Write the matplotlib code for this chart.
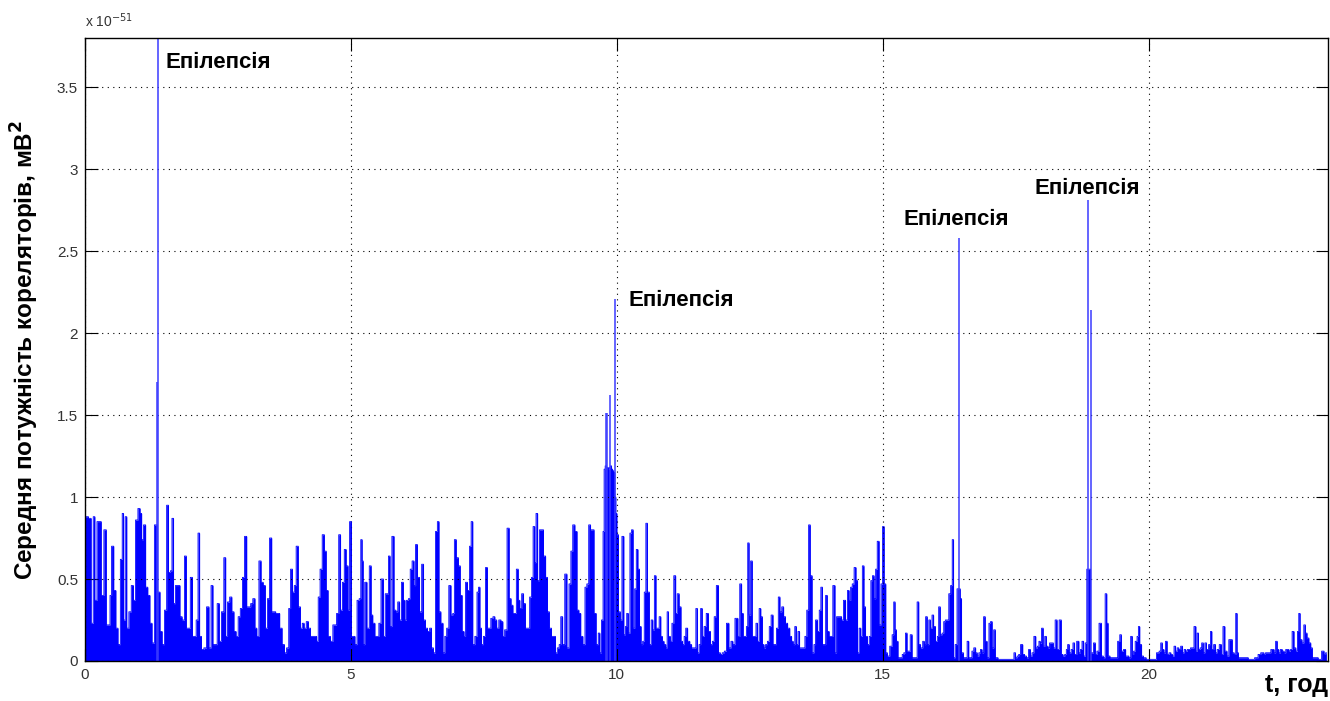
import numpy as np
import matplotlib
matplotlib.use("Agg")
import matplotlib.pyplot as plt

plt.rcParams['font.family'] = ['Liberation Sans', 'DejaVu Sans']

# mean correlator power, units of 1e-51 mV^2
t_hours = [
    0.00, 0.04, 0.09, 0.14, 0.17, 0.20, 0.25, 0.28, 0.33, 0.38, 0.42, 0.46, 0.48, 0.52, 0.56, 0.60,
    0.64, 0.69, 0.71, 0.74, 0.77, 0.80, 0.85, 0.89, 0.93, 0.97, 1.02, 1.05, 1.08, 1.12, 1.16, 1.20,
    1.24, 1.28, 1.33, 1.39, 1.43, 1.47, 1.52, 1.55, 1.59, 1.62, 1.65, 1.68, 1.72, 1.77, 1.80, 1.85,
    1.89, 1.92, 1.96, 2.00, 2.04, 2.07, 2.11, 2.14, 2.17, 2.21, 2.26, 2.31, 2.35, 2.39, 2.42, 2.46,
    2.51, 2.54, 2.59, 2.63, 2.66, 2.70, 2.74, 2.78, 2.82, 2.86, 2.90, 2.94, 2.98, 3.02, 3.06, 3.10,
    3.13, 3.18, 3.21, 3.25, 3.29, 3.33, 3.37, 3.41, 3.45, 3.49, 3.53, 3.57, 3.60, 3.64, 3.68, 3.73,
    3.77, 3.81, 3.85, 3.88, 3.92, 3.95, 3.99, 4.03, 4.07, 4.10, 4.14, 4.18, 4.22, 4.26, 4.30, 4.34,
    4.37, 4.40, 4.44, 4.48, 4.52, 4.55, 4.59, 4.64, 4.68, 4.71, 4.75, 4.79, 4.82, 4.86, 4.89, 4.93,
    4.96, 4.99, 5.03, 5.06, 5.09, 5.14, 5.17, 5.20, 5.22, 5.24, 5.28, 5.32, 5.37, 5.39, 5.43, 5.47,
    5.51, 5.54, 5.59, 5.63, 5.66, 5.69, 5.72, 5.75, 5.79, 5.83, 5.86, 5.90, 5.93, 5.97, 6.00, 6.03,
    6.06, 6.10, 6.13, 6.17, 6.20, 6.23, 6.27, 6.31, 6.35, 6.38, 6.42, 6.46, 6.50, 6.53, 6.57, 6.61,
    6.64, 6.67, 6.71, 6.75, 6.78, 6.82, 6.86, 6.90, 6.93, 6.96, 7.00, 7.04, 7.07, 7.11, 7.14, 7.17,
    7.21, 7.25, 7.27, 7.31, 7.35, 7.39, 7.41, 7.44, 7.47, 7.51, 7.55, 7.58, 7.61, 7.65, 7.69, 7.72,
    7.76, 7.80, 7.84, 7.87, 7.91, 7.96, 7.99, 8.03, 8.06, 8.09, 8.13, 8.16, 8.19, 8.23, 8.26, 8.30,
    8.34, 8.38, 8.41, 8.44, 8.47, 8.49, 8.53, 8.56, 8.60, 8.64, 8.68, 8.71, 8.75, 8.79, 8.83, 8.86,
    8.90, 8.93, 8.96, 9.00, 9.04, 9.08, 9.12, 9.15, 9.19, 9.23, 9.27, 9.30, 9.34, 9.38, 9.42, 9.45,
    9.49, 9.52, 9.55, 9.59, 9.63, 9.67, 9.69, 9.73, 9.75, 9.77, 9.79, 9.81, 9.83, 9.85, 9.87, 9.89,
    9.91, 9.93, 9.95, 9.97, 9.99, 10.01, 10.05, 10.08, 10.11, 10.15, 10.17, 10.20, 10.23, 10.26, 10.29, 10.32,
    10.35, 10.38, 10.41, 10.44, 10.47, 10.50, 10.53, 10.56, 10.59, 10.63, 10.66, 10.69, 10.72, 10.75, 10.78, 10.81,
    10.84, 10.87, 10.90, 10.94, 10.95, 10.99, 11.02, 11.05, 11.09, 11.12, 11.15, 11.19, 11.22, 11.25, 11.28, 11.31,
    11.35, 11.39, 11.42, 11.47, 11.50, 11.53, 11.56, 11.59, 11.62, 11.66, 11.70, 11.74, 11.78, 11.81, 11.85, 11.89,
    11.93, 11.96, 12.00, 12.04, 12.08, 12.13, 12.16, 12.20, 12.24, 12.26, 12.29, 12.33, 12.36, 12.39, 12.42, 12.45,
    12.47, 12.50, 12.53, 12.56, 12.60, 12.63, 12.66, 12.69, 12.72, 12.75, 12.78, 12.81, 12.85, 12.88, 12.92, 12.95,
    12.98, 13.02, 13.05, 13.08, 13.12, 13.15, 13.19, 13.23, 13.27, 13.30, 13.33, 13.36, 13.39, 13.42, 13.45, 13.49,
    13.52, 13.55, 13.59, 13.62, 13.65, 13.69, 13.72, 13.75, 13.79, 13.82, 13.85, 13.88, 13.91, 13.94, 13.97, 14.01,
    14.04, 14.08, 14.12, 14.14, 14.18, 14.21, 14.24, 14.28, 14.32, 14.35, 14.38, 14.41, 14.44, 14.48, 14.51, 14.54,
    14.57, 14.60, 14.63, 14.66, 14.69, 14.73, 14.76, 14.79, 14.82, 14.85, 14.88, 14.91, 14.95, 14.98, 15.01, 15.04,
    15.07, 15.10, 15.16, 15.19, 15.22, 15.24, 15.27, 15.30, 15.35, 15.38, 15.41, 15.44, 15.47, 15.50, 15.53, 15.57,
    15.60, 15.63, 15.66, 15.69, 15.73, 15.77, 15.79, 15.82, 15.85, 15.88, 15.91, 15.94, 15.97, 16.01, 16.04, 16.06,
    16.10, 16.13, 16.16, 16.19, 16.22, 16.26, 16.29, 16.32, 16.34, 16.38, 16.41, 16.44, 16.47, 16.49, 16.54, 16.57,
    16.60, 16.63, 16.66, 16.69, 16.73, 16.76, 16.79, 16.82, 16.85, 16.88, 16.91, 16.94, 16.98, 17.01, 17.04, 17.07,
    17.10, 17.13, 17.20, 17.26, 17.32, 17.38, 17.45, 17.48, 17.51, 17.54, 17.57, 17.61, 17.65, 17.68, 17.72, 17.76,
    17.79, 17.82, 17.86, 17.89, 17.92, 17.95, 17.97, 18.00, 18.03, 18.06, 18.09, 18.12, 18.15, 18.19, 18.22, 18.26,
    18.29, 18.34, 18.37, 18.40, 18.44, 18.46, 18.49, 18.52, 18.56, 18.59, 18.62, 18.67, 18.70, 18.73, 18.76, 18.79,
    18.82, 18.85, 18.87, 18.94, 18.98, 19.01, 19.04, 19.09, 19.13, 19.16, 19.20, 19.22, 19.25, 19.29, 19.33, 19.39,
    19.44, 19.47, 19.50, 19.55, 19.58, 19.61, 19.64, 19.68, 19.70, 19.73, 19.76, 19.80, 19.81, 19.85, 19.88, 19.92,
    19.98, 20.05, 20.11, 20.18, 20.21, 20.24, 20.27, 20.30, 20.33, 20.36, 20.40, 20.43, 20.46, 20.49, 20.52, 20.55,
    20.58, 20.62, 20.65, 20.68, 20.71, 20.74, 20.77, 20.80, 20.83, 20.87, 20.90, 20.92, 20.95, 20.98, 21.01, 21.04,
    21.07, 21.10, 21.15, 21.17, 21.20, 21.24, 21.27, 21.30, 21.35, 21.38, 21.41, 21.45, 21.49, 21.52, 21.55, 21.59,
    21.62, 21.65, 21.67, 21.70, 21.74, 21.77, 21.84, 21.90, 21.96, 22.02, 22.09, 22.12, 22.15, 22.18, 22.21, 22.24,
    22.28, 22.31, 22.34, 22.37, 22.40, 22.43, 22.46, 22.49, 22.53, 22.56, 22.59, 22.62, 22.65, 22.68, 22.71, 22.75,
    22.78, 22.81, 22.83, 22.86, 22.90, 22.93, 22.96, 22.99, 23.03, 23.06, 23.09, 23.15, 23.22, 23.28, 23.31, 23.34,
]
power = [
    .88, .88, .87, .23, .88, .37, .85, .85, .40, .80, .22, .22, .40, .70, .43, .20,
    .10, .62, .90, .25, .88, .20, .30, .46, .37, .86, .93, .90, .74, .83, .45, .40,
    .23, .11, .83, .42, .18, .10, .31, .95, .54, .55, .87, .35, .46, .46, .27, .25,
    .64, .20, .20, .51, .15, .15, .25, .78, .15, .07, .08, .33, .08, .46, .10, .10,
    .35, .12, .30, .63, .15, .36, .39, .30, .18, .15, .27, .32, .51, .76, .33, .33,
    .35, .38, .20, .15, .61, .48, .46, .20, .38, .75, .30, .30, .29, .29, .20, .10,
    .05, .08, .32, .56, .42, .46, .70, .33, .20, .23, .20, .24, .20, .15, .15, .15,
    .12, .39, .56, .77, .67, .43, .15, .12, .22, .22, .29, .77, .31, .48, .68, .58,
    .31, .85, .15, .15, .10, .37, .38, .74, .61, .10, .48, .20, .58, .28, .23, .15,
    .15, .23, .50, .15, .41, .41, .64, .21, .76, .31, .30, .36, .25, .48, .37, .25,
    .37, .38, .56, .61, .46, .71, .51, .30, .59, .25, .20, .18, .20, .08, .05, .79,
    .85, .30, .23, .05, .15, .20, .46, .28, .29, .74, .63, .58, .40, .18, .15, .48,
    .43, .70, .85, .10, .15, .42, .45, .20, .10, .15, .57, .20, .20, .26, .27, .25,
    .20, .25, .24, .15, .19, .81, .38, .34, .29, .29, .56, .37, .32, .41, .35, .20,
    .20, .39, .51, .82, .60, .90, .49, .80, .80, .64, .51, .30, .20, .15, .15, .05,
    .08, .10, .27, .10, .53, .08, .47, .67, .83, .79, .31, .29, .15, .10, .45, .47,
    .83, .80, .80, .29, .10, .17, .05, .25, .79, 1.17, 1.19, 1.18, 1.18, 1.17, 1.18, 1.19,
    1.17, 1.16, 1.15, 1.00, .90, .77, .30, .25, .76, .16, .21, .29, .17, .78, .80, .20,
    .44, .68, .56, .21, .10, .12, .42, .84, .42, .10, .25, .19, .52, .20, .20, .27,
    .15, .12, .10, .08, .30, .15, .12, .23, .52, .29, .41, .33, .12, .10, .15, .20,
    .12, .10, .08, .08, .32, .05, .10, .32, .15, .21, .29, .18, .10, .12, .27, .46,
    .05, .04, .05, .06, .23, .08, .12, .10, .26, .26, .15, .47, .29, .15, .15, .21,
    .72, .28, .61, .15, .15, .23, .12, .32, .27, .10, .08, .10, .12, .21, .28, .10,
    .10, .20, .39, .30, .33, .27, .23, .20, .15, .12, .10, .21, .10, .18, .08, .08,
    .08, .15, .31, .83, .52, .05, .10, .25, .18, .31, .45, .10, .10, .40, .18, .15,
    .15, .46, .05, .27, .27, .27, .25, .37, .25, .43, .37, .45, .47, .57, .49, .05,
    .20, .15, .58, .33, .15, .10, .15, .49, .52, .38, .56, .73, .22, .47, .82, .47,
    .05, .03, .09, .16, .36, .19, .12, .02, .02, .04, .05, .17, .06, .06, .16, .02,
    .02, .02, .36, .10, .08, .12, .10, .27, .10, .25, .20, .28, .21, .12, .15, .33,
    .16, .17, .24, .25, .25, .41, .46, .74, .02, .10, .44, .44, .38, .05, .02, .02,
    .12, .02, .02, .06, .08, .05, .03, .05, .07, .05, .27, .12, .02, .23, .24, .08,
    .19, .02, .01, .01, .01, .01, .01, .05, .02, .03, .04, .10, .04, .03, .02, .07,
    .03, .05, .15, .08, .09, .12, .11, .20, .09, .15, .09, .08, .11, .11, .08, .25,
    .07, .25, .04, .03, .04, .07, .10, .05, .07, .11, .04, .12, .05, .07, .12, .03,
    .11, .56, .56, .05, .11, .04, .06, .23, .03, .02, .41, .23, .03, .02, .02, .02,
    .12, .16, .06, .07, .03, .03, .02, .15, .04, .06, .12, .15, .21, .10, .03, .02,
    .01, .01, .01, .05, .06, .11, .07, .05, .12, .04, .05, .04, .03, .09, .06, .08,
    .07, .09, .05, .07, .06, .07, .07, .08, .08, .21, .06, .17, .07, .08, .11, .05,
    .11, .07, .10, .18, .07, .10, .05, .07, .10, .04, .21, .06, .03, .13, .13, .05,
    .04, .29, .05, .02, .02, .02, .02, .01, .01, .02, .04, .05, .05, .04, .05, .05,
    .05, .07, .07, .05, .12, .07, .05, .07, .06, .05, .07, .07, .06, .07, .18, .08,
    .06, .18, .29, .13, .11, .22, .17, .14, .11, .08, .02, .02, .01, .06, .04, .05,
]

# thin single-sample spikes
spike_t = [1.35, 1.37, 9.80, 9.82, 9.88, 9.96, 16.43, 18.85, 18.91]
spike_v = [1.70, 3.90, 1.51, 1.51, 1.62, 2.21, 2.58, 2.81, 2.14]

# seizure labels
label_t = [1.52, 10.21, 15.39, 17.86]
label_v = [3.65, 2.20, 2.69, 2.88]

fig = plt.figure(figsize=(13.3, 7.01), dpi=100)
ax = fig.add_axes([0.0639, 0.0571, 0.9346, 0.8887])

ax.fill_between(t_hours, power, step='mid', color='#0000ff', lw=0)
ax.step(t_hours, power, where='mid', color='#0000ff', lw=0.6)
ax.vlines(spike_t, 0, spike_v, color='#3a3aff', lw=1.1)

for tx, ty in zip(label_t, label_v):
    ax.text(tx, ty, 'Епілепсія', fontsize=16, fontweight='bold', va='center', ha='left')

ax.set_xlim(0, 23.37)
ax.set_ylim(0, 3.8)
ax.set_xticks([0, 5, 10, 15, 20])
ax.set_yticks([0, 0.5, 1, 1.5, 2, 2.5, 3, 3.5])
ax.set_yticklabels(['0', '0.5', '1', '1.5', '2', '2.5', '3', '3.5'])
ax.grid(True, color='black', linestyle=(0, (1, 4)), lw=0.8)
ax.tick_params(direction='in', length=9, width=0.8, top=True, right=True,
               labelsize=11, labelcolor='#333333', pad=5)
for s in ax.spines.values():
    s.set_linewidth(1.0)

ax.set_ylabel('Середня потужність кореляторів, мВ$^\\mathbf{2}$', fontsize=17.5,
              fontweight='bold')
ax.yaxis.set_label_coords(-0.035, 0.5)
fig.text(0.9985, 0.006, 't, год', fontsize=18, fontweight='bold', ha='right', va='bottom')
fig.text(0.064, 0.957, 'x 10$^{-51}$', fontsize=10, color='#333333', ha='left', va='bottom')

fig.savefig('out.png', dpi=100)
